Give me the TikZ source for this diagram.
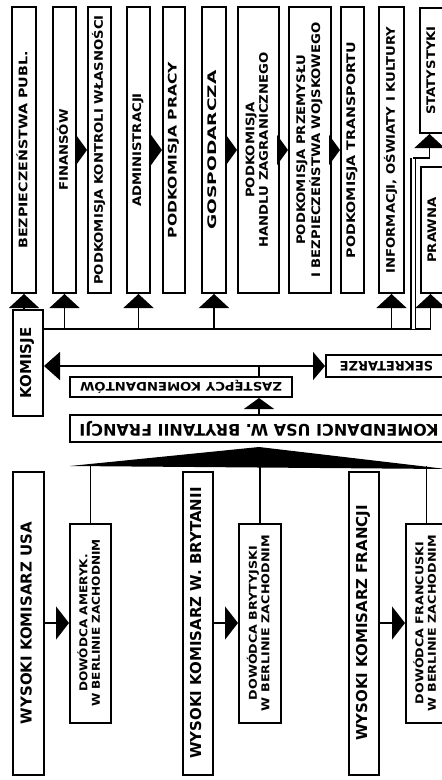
\documentclass[tikz,border=0pt]{standalone}
\usepackage{graphicx}
\usepackage{fontspec}
\setmainfont{DejaVu Sans}
\newfontfamily\widefont{DejaVu Sans}[FakeStretch=1.12]
\usepackage{tikz}
\usetikzlibrary{arrows.meta}

\tikzset{
    box/.style = {draw, line width=2pt, inner sep=0pt, font=\widefont\bfseries\fontsize{11.8}{13.5}\selectfont},
    bigtext/.style = {font=\bfseries\fontsize{15}{16}\selectfont},
    smalltext/.style = {font=\widefont\bfseries\fontsize{10.8}{12.5}\selectfont},
    link/.style = {line width=1.8pt},
    tipup/.style = {-{Triangle[width=30pt,length=14pt]}},
    tipshort/.style = {-{Triangle[width=30pt,length=11pt]}},
    tipside/.style = {-{Triangle[width=30pt,length=11pt]}},
    tipwide/.style = {-{Triangle[width=33pt,length=13pt]}},
    tipboth/.style = {{Triangle[width=28pt,length=16pt]}-{Triangle[width=28pt,length=12pt]}},
}
% optional argument stretches the text along its line
\newcommand{\upword}[2][1]{\rotatebox{90}{\scalebox{#1}[1]{\begin{tabular}{@{}c@{}}#2\end{tabular}}}}
\newcommand{\flipword}[1]{\rotatebox{180}{#1}}

\begin{document}
\begin{tikzpicture}[x=1pt, y=-1pt]
        \useasboundingbox (0,0) rectangle (442,780);
        \clip (0,0) rectangle (442,780);

        % komisje i podkomisje
        \node[box, minimum width=24pt, minimum height=286pt] (bez) at (24,150) {\upword[1.08]{BEZPIECZEŃSTWA PUBL.}};
        \node[box, minimum width=23pt, minimum height=286pt] (fin) at (64.5,150) {\upword{FINANSÓW}};
        \node[box, minimum width=23pt, minimum height=286pt] (kon) at (99.5,150) {\upword{PODKOMISJA KONTROLI WŁASNOŚCI}};
        \node[box, minimum width=23pt, minimum height=286pt] (adm) at (138.5,150) {\upword{ADMINISTRACJI}};
        \node[box, minimum width=22pt, minimum height=286pt] (pra) at (174,150) {\upword[1.18]{PODKOMISJA PRACY}};
        \node[box, minimum width=24pt, minimum height=286pt] (gos) at (214,150) {\upword[1.4]{GOSPODARCZA}};
        \node[box, minimum width=41pt, minimum height=286pt] (han) at (258.5,150) {\upword{PODKOMISJA\\HANDLU ZAGRANICZNEGO}};
        \node[box, minimum width=42pt, minimum height=286pt] (prz) at (310,150) {\upword{PODKOMISJA PRZEMYSŁU\\I BEZPIECZEŃSTWA WOJSKOWEGO}};
        \node[box, minimum width=23pt, minimum height=286pt] (tra) at (352.5,150) {\upword[1.08]{PODKOMISJA TRANSPORTU}};
        \node[box, minimum width=25pt, minimum height=286pt] (inf) at (391.5,150) {\upword{INFORMACJI, OŚWIATY I KULTURY}};
        \node[box, minimum width=25pt, minimum height=125pt] (sta) at (432.5,70.5) {\upword{STATYSTYKI}};
        \node[box, minimum width=25pt, minimum height=126pt] (prw) at (433.5,230) {\upword{PRAWNA}};

        \node[box, bigtext, minimum width=30pt, minimum height=106pt] (kom) at (28,363) {\upword{KOMISJE}};
        \node[box, font=\bfseries\fontsize{13}{14}\selectfont, minimum width=121pt, minimum height=22pt] (sek) at (386.5,366) {\flipword{SEKRETARZE}};
        \node[box, minimum width=222pt, minimum height=20pt] (zas) at (181,387) {\flipword{ZASTĘPCY KOMENDANTÓW}};
        \node[box, font=\bfseries\fontsize{16}{17}\selectfont, minimum width=378pt, minimum height=27pt] (kmd) at (259,428.5) {\flipword{KOMENDANCI USA W. BRYTANII FRANCJI}};

        % komisarze i dowodcy
        \node[box, bigtext, minimum width=31pt, minimum height=303pt] (wku) at (28.5,623) {\upword{WYSOKI KOMISARZ USA}};
        \node[box, bigtext, minimum width=30pt, minimum height=303pt] (wkb) at (198,623) {\upword{WYSOKI KOMISARZ W. BRYTANII}};
        \node[box, bigtext, minimum width=30pt, minimum height=303pt] (wkf) at (364,623) {\upword{WYSOKI KOMISARZ FRANCJI}};
        \node[box, smalltext, minimum width=41pt, minimum height=199pt] (dwa) at (90.5,623) {\upword{DOWÓDCA AMERYK.\\W BERLINIE ZACHODNIM}};
        \node[box, smalltext, minimum width=42pt, minimum height=199pt] (dwb) at (260,623) {\upword[1.05]{DOWÓDCA BRYTYJSKI\\W BERLINIE ZACHODNIM}};
        \node[box, smalltext, minimum width=41pt, minimum height=199pt] (dwf) at (426.5,623) {\upword[1.05]{DOWÓDCA FRANCUSKI\\W BERLINIE ZACHODNIM}};

        % szyna komisji
        \coordinate (busend) at (413,329);
        \coordinate (statbend) at (413,158);
        \draw[link] (kom.east |- busend) -- (busend);
        \draw[link, tipup] (bez.south |- kom.north) -- (bez.south);
        \foreach \k in {fin, adm, gos, inf}
            \draw[link, tipup] (\k.south |- busend) -- (\k.south);
        \draw[link, tipup] (busend) -| ([xshift=-3pt]prw.south);
        \draw[link, double, double distance=3pt] (busend) -- (statbend);
        \draw[link, tipup] (statbend) -| ([xshift=-3pt]sta.south);

        \draw[link, tipside] (fin.east) -- (kon.west);
        \draw[link, tipside] (adm.east) -- (pra.west);
        \draw[link, tipside] (gos.east) -- (han.west);
        \draw[link, tipside] (han.east) -- (prz.west);
        \draw[link, tipside] (prz.east) -- (tra.west);

        % komendanci
        \draw[link, tipboth] (kom.east |- sek.west) -- (sek.west);
        \draw[link] (kmd.north |- zas.north) -- (kmd.north |- sek.west);
        \draw[link, tipshort] (kmd.north) -- (kmd.north |- zas.south);

        \coordinate (wl) at (70,466);
        \coordinate (wr) at (446,469);
        \fill (wl) -- ([yshift=-4pt]kmd.south) -- (wr) -- cycle;
        \foreach \d in {dwa, dwb, dwf}
            \draw[link] (\d.north |- wl) -- (\d.north);

        \draw[link, tipwide] (wku.east) -- (dwa.west);
        \draw[link, tipwide] (wkb.east) -- (dwb.west);
        \draw[link, tipwide] (wkf.east) -- (dwf.west);

\end{tikzpicture}
\end{document}
